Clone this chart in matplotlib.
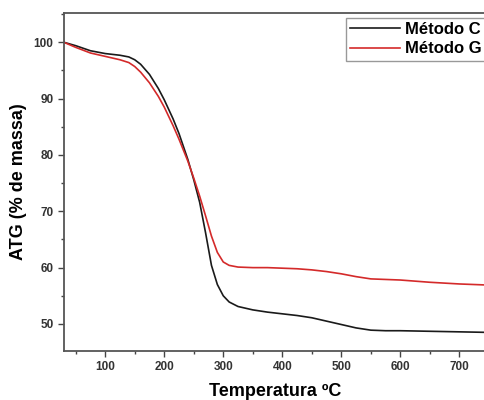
import matplotlib
matplotlib.use('Agg')
from matplotlib import pyplot as plt
from matplotlib.ticker import MultipleLocator

plt.rcParams['font.family'] = ['Liberation Sans', 'DejaVu Sans']

# temperatura (C)
temp = [30, 50, 75, 100, 125, 140, 150, 160, 175, 190, 200, 215, 225, 240, 250,
        260, 270, 280, 290, 300, 310, 325, 350, 375, 400, 425, 450, 475, 500,
        525, 550, 575, 600, 650, 700, 750]
# Metodo C
massa_c = [100, 99.4, 98.5, 98.0, 97.7, 97.4, 96.9, 96.1, 94.3, 91.8, 89.8, 86.4,
           83.8, 79.2, 75.6, 71.6, 66.2, 60.4, 57.0, 55.0, 53.9, 53.1, 52.5,
           52.1, 51.8, 51.5, 51.1, 50.5, 49.9, 49.3, 48.9, 48.8, 48.8, 48.7,
           48.6, 48.5]
# Metodo G
massa_g = [100, 99.1, 98.1, 97.5, 96.9, 96.4, 95.7, 94.7, 92.8, 90.4, 88.5, 85.2,
           82.8, 78.9, 75.9, 72.7, 69.2, 65.6, 62.7, 61.0, 60.4, 60.1, 60.0,
           60.0, 59.9, 59.8, 59.6, 59.3, 58.9, 58.4, 58.0, 57.9, 57.8, 57.4,
           57.1, 56.9]

fig = plt.figure(figsize=(4.84, 4.0), dpi=100)
ax = fig.add_axes([0.132, 0.1225, 0.872, 0.845])

ax.plot(temp, massa_c, color='#1a1a1a', lw=1.2, label='Método C')
ax.plot(temp, massa_g, color='#d42a2a', lw=1.2, label='Método G')

ax.set_xlim(30, 745)
ax.set_ylim(45.2, 105.2)
ax.xaxis.set_major_locator(MultipleLocator(100))
ax.xaxis.set_minor_locator(MultipleLocator(50))
ax.yaxis.set_major_locator(MultipleLocator(10))
ax.yaxis.set_minor_locator(MultipleLocator(5))
ax.tick_params(which='major', direction='out', length=4, width=1, colors='#444444',
               labelsize=8.5, labelcolor='#333333')
ax.tick_params(which='minor', direction='out', length=2.5, width=1, colors='#444444')
for lab in ax.get_xticklabels() + ax.get_yticklabels():
    lab.set_fontweight('bold')
for s in ax.spines.values():
    s.set_linewidth(1.3)
    s.set_color('#555555')

ax.set_xlabel('Temperatura ºC', fontsize=13, fontweight='bold', labelpad=7)
ax.set_ylabel('ATG (% de massa)', fontsize=13, fontweight='bold', labelpad=5)

leg = ax.legend(loc='upper right', bbox_to_anchor=(1.0, 0.985),
                prop={'weight': 'bold', 'size': 12},
                fancybox=False, framealpha=1, edgecolor='#999999',
                borderaxespad=0, handlelength=3.0, borderpad=0.25,
                labelspacing=0.25, handletextpad=0.3)

fig.savefig('out.png', dpi=100)
